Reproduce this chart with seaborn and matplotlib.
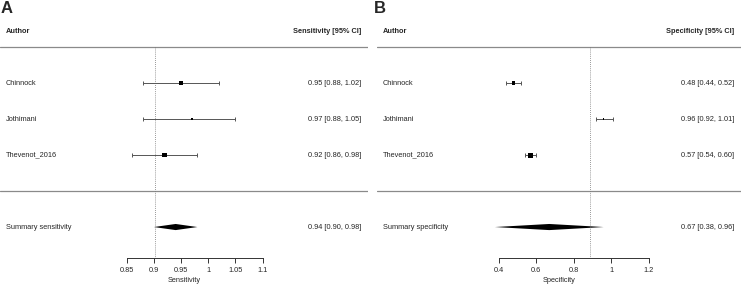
import pandas as pd
import numpy as np
import seaborn as sns
import matplotlib.pyplot as plt

sns.set_style("white")
plt.rcParams['font.family'] = ['Liberation Sans', 'DejaVu Sans']

# study data
authors = ['Chinnock', 'Jothimani', 'Thevenot_2016']
sens_est = [0.95, 0.97, 0.92]
sens_lo = [0.88, 0.88, 0.86]
sens_hi = [1.02, 1.05, 0.98]
sens_wt = [31, 8, 61]
spec_est = [0.48, 0.96, 0.57]
spec_lo = [0.44, 0.92, 0.54]
spec_hi = [0.52, 1.01, 0.60]
spec_wt = [29, 7, 64]

# summary estimates
sens_sum = [0.94, 0.90, 0.98]
spec_sum = [0.67, 0.38, 0.96]
sens_ref = 0.902
spec_ref = 0.89

sens_ticks = [0.85, 0.9, 0.95, 1, 1.05, 1.1]
spec_ticks = [0.4, 0.6, 0.8, 1, 1.2]

fig = plt.figure(figsize=(7.43, 2.87), dpi=100)
W, H = 743, 287
FS = 5.3


def forest(ax, est, lo, hi, wt, summ, ref, ticks, xlim, label, sumlab, xlab):
    df = pd.DataFrame({'author': authors, 'est': est, 'lo': lo, 'hi': hi,
                       'wt': wt, 'row': [1, 2, 3]})
    ax.set_xlim(*xlim)
    ax.set_ylim(5.86, -0.75)
    tr = ax.get_yaxis_transform()  # x axes-frac, y data
    # separators
    for r in (0, 4):
        ax.axhline(r, color='#8a8a8a', lw=0.9)
    ax.vlines(ref, 0, 5.86, colors='#777777', linestyles=(0, (1, 1.5)), lw=0.6)
    # CIs
    ax.errorbar(df['est'], df['row'], xerr=[df['est'] - df['lo'], df['hi'] - df['est']],
                fmt='none', ecolor='#555555', elinewidth=0.7, capsize=1.2, capthick=0.7)
    sns.scatterplot(data=df, x='est', y='row', size='wt', sizes=(0, 20), size_norm=(0, 100),
                    marker='s', color='black', linewidth=0, legend=False, ax=ax, zorder=3)
    # summary diamond
    m, a, b = summ
    h = 0.085
    ax.fill([a, m, b, m], [5, 5 - h, 5, 5 + h], color='black', lw=0)
    # texts
    ax.text(0.016, -0.44, 'Author', transform=tr, fontsize=FS, fontweight='bold', va='center')
    ax.text(0.982, -0.44, label + ' [95% CI]', transform=tr, fontsize=FS,
            fontweight='bold', va='center', ha='right')
    for i, r in df.iterrows():
        ax.text(0.016, r['row'], r['author'], transform=tr, fontsize=FS, va='center')
        ax.text(0.982, r['row'], f"{r['est']:.2f} [{r['lo']:.2f}, {r['hi']:.2f}]",
                transform=tr, fontsize=FS, va='center', ha='right')
    ax.text(0.016, 5, sumlab, transform=tr, fontsize=FS, va='center')
    ax.text(0.982, 5, f"{m:.2f} [{a:.2f}, {b:.2f}]", transform=tr, fontsize=FS,
            va='center', ha='right')
    # axis
    for s in ('top', 'left', 'right'):
        ax.spines[s].set_visible(False)
    ax.spines['bottom'].set_bounds(ticks[0], ticks[-1])
    ax.spines['bottom'].set_color('#333333')
    ax.spines['bottom'].set_linewidth(0.7)
    ax.set_xticks(ticks)
    ax.set_xticklabels([f"{t:g}" for t in ticks])
    ax.tick_params(axis='x', bottom=True, direction='out', length=3.3, width=0.7,
                   color='#333333', labelsize=FS, pad=3.5)
    ax.set_yticks([])
    ax.set_xlabel(xlab, fontsize=FS, labelpad=2)
    ax.set_ylabel('')
    ax.patch.set_alpha(0)


axA = fig.add_axes([0 / W, 1 - 258 / H, 368 / W, 238 / H])
forest(axA, sens_est, sens_lo, sens_hi, sens_wt, sens_sum, sens_ref, sens_ticks,
       (0.6171, 1.2936), 'Sensitivity', 'Summary sensitivity', 'Sensitivity')
axB = fig.add_axes([377 / W, 1 - 258 / H, 364 / W, 238 / H])
forest(axB, spec_est, spec_lo, spec_hi, spec_wt, spec_sum, spec_ref, spec_ticks,
       (-0.2498, 1.6937), 'Specificity', 'Summary specificity', 'Specificity')

fig.text(1 / W, 1 - 1 / H, 'A', fontsize=12, fontweight='bold', va='top', ha='left')
fig.text(374 / W, 1 - 1 / H, 'B', fontsize=12, fontweight='bold', va='top', ha='left')

fig.savefig('out.png', dpi=100)
